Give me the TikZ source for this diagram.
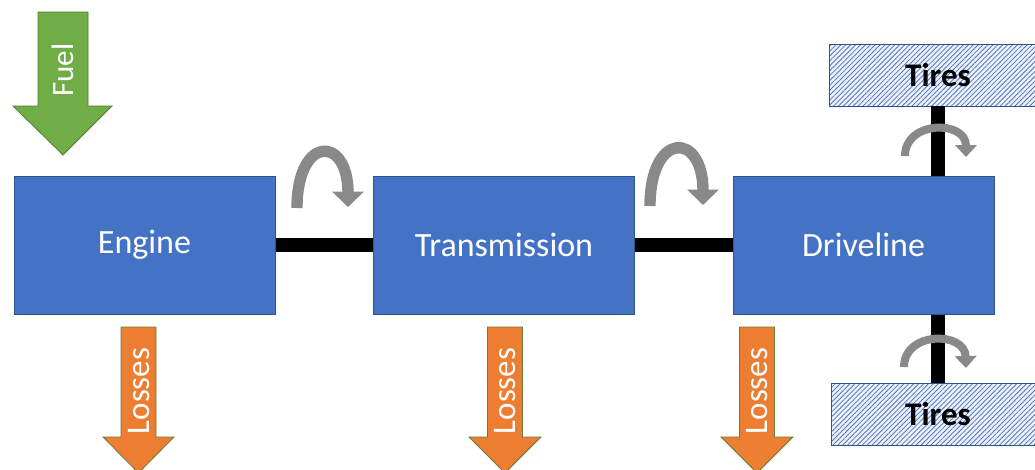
\documentclass[tikz,border=0pt]{standalone}
\usepackage{fontspec}
\setmainfont{Carlito}
\usetikzlibrary{arrows.meta,patterns.meta}
\definecolor{boxblue}{RGB}{68,114,196}
\definecolor{boxline}{RGB}{47,82,143}
\definecolor{fuelgreen}{RGB}{112,173,71}
\definecolor{fuelline}{RGB}{80,126,50}
\definecolor{lossorange}{RGB}{237,125,49}
\definecolor{lossline}{RGB}{98,128,60}
\definecolor{twistgray}{RGB}{137,137,137}
\definecolor{tirebg}{RGB}{236,241,250}
\definecolor{tireline}{RGB}{80,116,192}
\tikzset{
	block/.style={draw=boxline, line width=0.75pt, fill=boxblue, text=white, minimum width=195.75pt, minimum height=103.5pt, font=\fontsize{25.5}{30}\selectfont},
	tire/.style={draw=boxline, line width=0.75pt, preaction={fill=tirebg}, pattern={Lines[angle=45, distance=2.6pt, line width=0.6pt]}, pattern color=tireline, minimum width=180pt, minimum height=46.5pt, anchor=west},
	tiretext/.style={font=\fontsize{24.75}{30}\selectfont\bfseries, inner sep=0pt},
	shaft/.style={line width=10pt, black},
	fuelarrow/.style={draw=fuelline, line width=0.6pt, fill=fuelgreen},
	lossarrow/.style={draw=lossline, line width=0.6pt, fill=lossorange},
	flowtext/.style={rotate=90, text=white, inner sep=0pt},
	twist/.style={draw=twistgray, line width=8.5pt, -{Triangle[width=23pt,length=11.5pt]}},
	smalltwist/.style={draw=twistgray, line width=6pt, -{Triangle[width=16pt,length=9pt]}}
}
\begin{document}
\begin{tikzpicture}[x=0.75pt,y=0.75pt,yscale=-1,xscale=1]
	\useasboundingbox (0,0) rectangle (1035,469);
	
	%Shape: Block Arrow [id:fuel]
	\draw [fuelarrow] (38,12) -- (88,12) -- (88,106) -- (112,106) -- (63,155) -- (13,106) -- (38,106) -- cycle ;
	%Shape: Block Arrow [id:loss engine]
	\draw [lossarrow] (121,327) -- (156,327) -- (156,437) -- (174,437) -- (138.5,473) -- (103,437) -- (121,437) -- cycle ;
	%Shape: Block Arrow [id:loss transmission]
	\draw [lossarrow] (487.5,327) -- (522.5,327) -- (522.5,437) -- (541,437) -- (505,473) -- (469,437) -- (487.5,437) -- cycle ;
	%Shape: Block Arrow [id:loss driveline]
	\draw [lossarrow] (739.5,327) -- (774.5,327) -- (774.5,437) -- (793,437) -- (757,473) -- (721,437) -- (739.5,437) -- cycle ;
	
	% Text Node
	\node [flowtext, font=\fontsize{23.25}{28}\selectfont] (fuellabel) at (63,70) {Fuel};
	% Text Node
	\node [flowtext, font=\fontsize{24.75}{28}\selectfont] (losseng) at (139,391) {Losses};
	% Text Node
	\node [flowtext, font=\fontsize{24.75}{28}\selectfont] (losstrans) at (505,391) {Losses};
	% Text Node
	\node [flowtext, font=\fontsize{24.75}{28}\selectfont] (lossdrive) at (757,391) {Losses};
	
	% Blocks
	\node [block] (engine) at (144.5,245) {Engine};
	\node [block] (trans) at (504,245) {Transmission};
	\node [block] (drive) at (863.5,245) {Driveline};
	\node [tire] (tiretop) at (829,75) {};
	\node [tire] (tirebot) at (831,414) {};
	% Text Node
	\node [tiretext] (tiretoplabel) at (938,75) {Tires};
	% Text Node
	\node [tiretext] (tirebotlabel) at (938,414) {Tires};
	
	%Straight Lines [id:shafts]
	\draw [shaft] (tiretoplabel |- tiretop.south) -- (tiretoplabel |- drive.north) ;
	\draw [shaft] (tirebotlabel |- tirebot.north) -- (tirebotlabel |- drive.south) ;
	\draw [shaft] (engine) -- (trans) ;
	\draw [shaft] (trans) -- (drive) ;
	
	%Curve Lines [id:twists]
	\draw [twist] (297,208) .. controls (297,135) and (348,135) .. (348,207) ;
	\draw [twist] (650,206) .. controls (650,131) and (703,131) .. (703,205) ;
	\draw [smalltwist] (905,156) .. controls (905,120) and (966,120) .. (966,157) ;
	\draw [smalltwist] (904,367) .. controls (904,331) and (965,331) .. (966,368) ;
	
\end{tikzpicture}
\end{document}
